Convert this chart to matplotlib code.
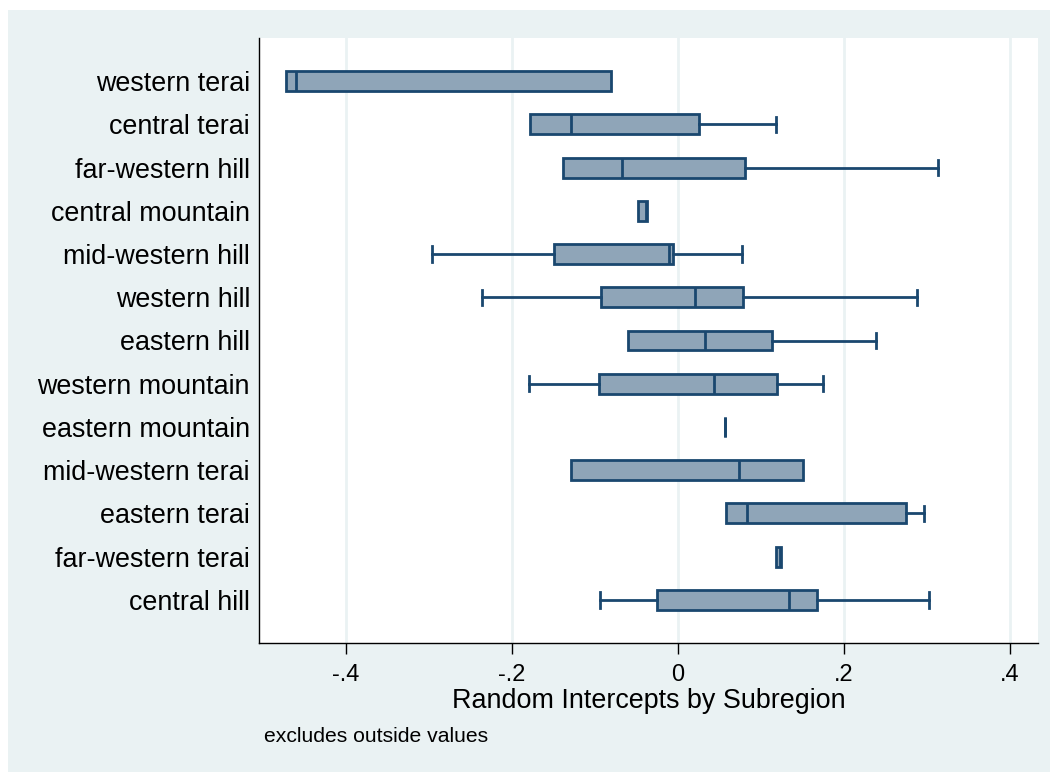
import matplotlib
matplotlib.use('Agg')
import matplotlib.pyplot as plt
from matplotlib.patches import Rectangle

plt.rcParams['font.family'] = ['Liberation Sans', 'DejaVu Sans']

# subregions, ordered by median random intercept
regions = ['western terai', 'central terai', 'far-western hill', 'central mountain',
           'mid-western hill', 'western hill', 'eastern hill', 'western mountain',
           'eastern mountain', 'mid-western terai', 'eastern terai', 'far-western terai',
           'central hill']
whislo = [-0.472, -0.178, -0.139, -0.048, -0.296, -0.236, -0.060, -0.180,
          0.057, -0.1295, 0.058, 0.118, -0.0935]
q1 = [-0.472, -0.178, -0.139, -0.048, -0.150, -0.093, -0.060, -0.095,
      0.057, -0.1295, 0.058, 0.118, -0.0257]
med = [-0.460, -0.129, -0.067, -0.038, -0.0104, 0.020, 0.032, 0.043,
       0.057, 0.073, 0.083, 0.1232, 0.1336]
q3 = [-0.081, 0.0257, 0.081, -0.037, -0.006, 0.078, 0.113, 0.119,
      0.057, 0.151, 0.275, 0.1235, 0.167]
whishi = [-0.081, 0.118, 0.313, -0.037, 0.0771, 0.288, 0.239, 0.175,
          0.057, 0.151, 0.296, 0.1235, 0.302]

xticks = [-0.4, -0.2, 0, 0.2, 0.4]
xticklabels = ['-.4', '-.2', '0', '.2', '.4']

navy = '#1a476f'
fill = '#8fa5b8'
bg = '#eaf2f3'
lw = 2.0

W, H = 1050, 772
fig = plt.figure(figsize=(W / 100, H / 100), dpi=100)
fig.patch.set_facecolor('white')
fig.add_artist(Rectangle((8 / W, 0), 1 - 8 / W, 1 - 10 / H, transform=fig.transFigure,
                         facecolor=bg, edgecolor='none', zorder=0))

ax = fig.add_axes([259 / W, 1 - 643 / H, (1038 - 259) / W, (643 - 38) / H])
ax.set_facecolor('white')

stats = []
for i, name in enumerate(regions):
    stats.append(dict(label=name, whislo=whislo[i], q1=q1[i], med=med[i],
                      q3=q3[i], whishi=whishi[i], fliers=[]))

positions = list(range(1, len(regions) + 1))
parts = ax.bxp(stats, positions=positions, vert=False, widths=0.46,
               patch_artist=True, showfliers=False,
               boxprops=dict(facecolor=fill, edgecolor=navy, linewidth=lw),
               medianprops=dict(color=navy, linewidth=lw),
               whiskerprops=dict(color=navy, linewidth=lw),
               capprops=dict(color=navy, linewidth=lw),
               capwidths=0.36)

# no caps where the whisker ends at the box
for i in range(len(regions)):
    lo_cap, hi_cap = parts['caps'][2 * i], parts['caps'][2 * i + 1]
    if whislo[i] >= q1[i]:
        lo_cap.set_visible(False)
    if whishi[i] <= q3[i]:
        hi_cap.set_visible(False)

ax.set_ylim(len(regions) + 1, 0)
ax.set_xlim(-0.5048, 0.4337)
ax.set_yticks(positions)
ax.set_yticklabels(regions, fontsize=19.4)
ax.tick_params(axis='y', length=0, pad=6.5)

ax.set_xticks(xticks)
ax.set_xticklabels(xticklabels, fontsize=17)
ax.tick_params(axis='x', direction='out', length=7.7, width=1, color='black', pad=7.6)
ax.xaxis.grid(True, color=bg, linewidth=2)
ax.set_axisbelow(True)

for side in ['top', 'right']:
    ax.spines[side].set_visible(False)
for side in ['left', 'bottom']:
    ax.spines[side].set_color('black')
    ax.spines[side].set_linewidth(1)

ax.set_xlabel('Random Intercepts by Subregion', fontsize=19.4, labelpad=1)

fig.text(264 / W, 1 - 737 / H, 'excludes outside values', fontsize=15.2, va='center')

fig.savefig('out.png', dpi=100, facecolor=fig.get_facecolor())
